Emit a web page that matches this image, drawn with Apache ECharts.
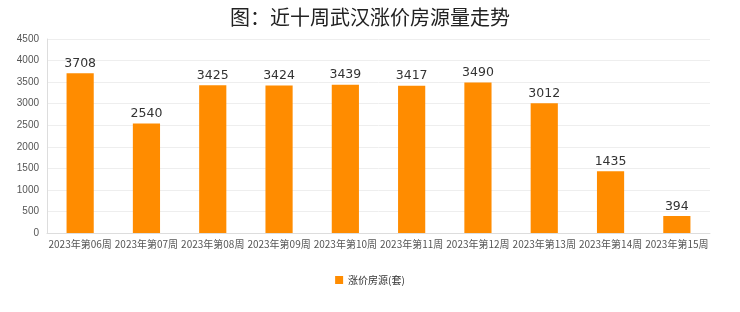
<!DOCTYPE html>
<html><head><meta charset="utf-8">
<script src="https://cdn.jsdelivr.net/npm/echarts@6/dist/echarts.min.js"></script>
<style>html,body{margin:0;padding:0;background:#fff}#c{width:740px;height:312px}</style>
</head><body><div id="c"></div>
<script>
const categories = ['2023年第06周','2023年第07周','2023年第08周','2023年第09周','2023年第10周','2023年第11周','2023年第12周','2023年第13周','2023年第14周','2023年第15周'];
const values = [3708, 2540, 3425, 3424, 3439, 3417, 3490, 3012, 1435, 394];
const seriesName = '涨价房源(套)';
const titleText = '图：近十周武汉涨价房源量走势';

const chart = echarts.init(document.getElementById('c'));
chart.setOption({
  animation: false,
  backgroundColor: '#fff',
  title: {text: titleText, left: 'center', top: 2, textStyle: {fontSize: 20, fontWeight: 'normal', color: '#222', fontFamily: 'Noto Sans CJK SC'}},
  legend: {bottom: 22, left: 'center', itemWidth: 8, itemHeight: 8, icon: 'rect',
    textStyle: {fontSize: 10, color: '#333', fontFamily: 'Noto Sans CJK SC'}, data: [seriesName]},
  grid: {left: 47, right: 30, top: 39, bottom: 79},
  xAxis: {type: 'category', data: categories,
    axisLine: {lineStyle: {color: '#ddd'}}, axisTick: {show: false},
    axisLabel: {interval: 0, fontSize: 10, color: '#555', margin: 6, fontFamily: 'Noto Sans CJK SC'}},
  yAxis: {type: 'value', min: 0, max: 4500, interval: 500,
    axisLine: {show: true, lineStyle: {color: '#ddd'}}, axisTick: {show: false},
    axisLabel: {fontSize: 10, color: '#555', margin: 8, formatter: v => String(v)},
    splitLine: {lineStyle: {color: '#eee'}}},
  series: [{name: seriesName, type: 'bar', data: values, barWidth: '41%',
    itemStyle: {color: '#FF8C00'},
    label: {show: true, position: 'top', fontSize: 12.5, color: '#333', distance: 3, fontFamily: 'DejaVu Sans'}}]
});
</script></body></html>
